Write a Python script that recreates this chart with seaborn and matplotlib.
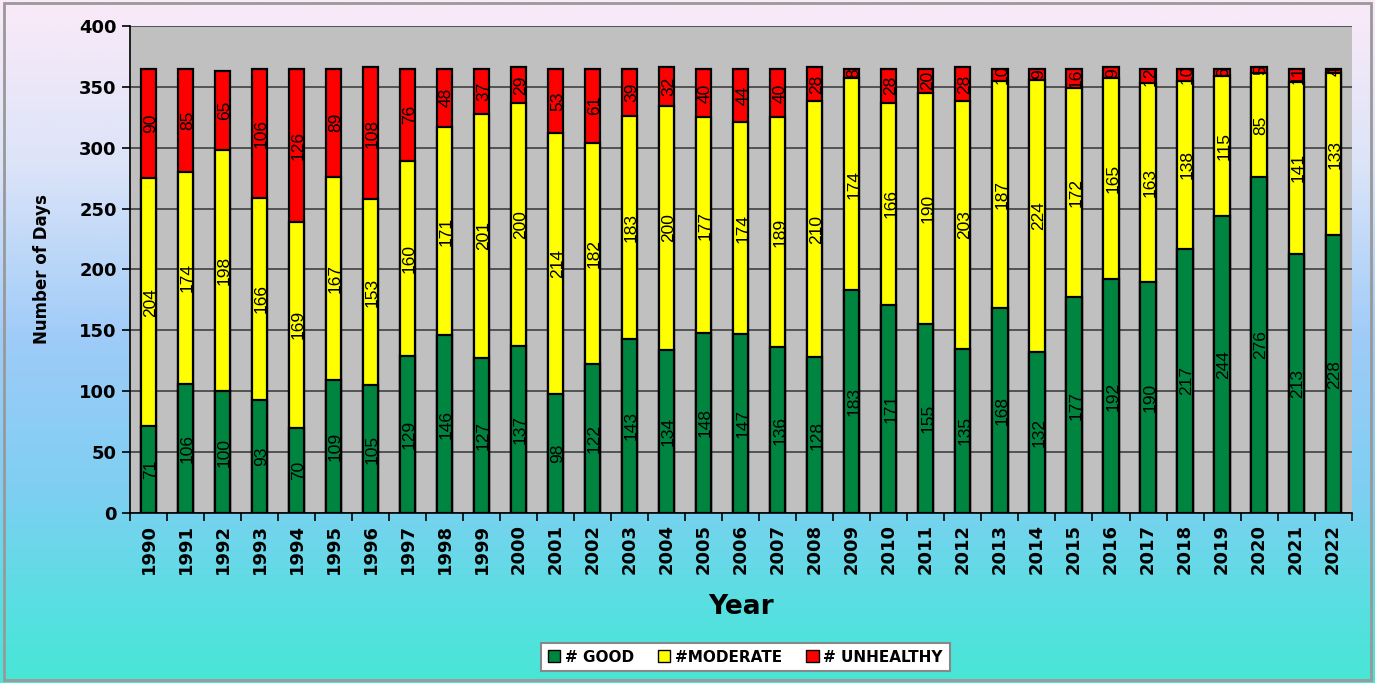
import numpy as np
import pandas as pd
import matplotlib
matplotlib.use("Agg")
import matplotlib.pyplot as plt
import seaborn as sns
from matplotlib.colors import LinearSegmentedColormap
from matplotlib.patches import Patch, Rectangle

years = list(range(1990, 2023))
good = [71, 106, 100, 93, 70, 109, 105, 129, 146, 127, 137, 98, 122, 143, 134, 148, 147,
        136, 128, 183, 171, 155, 135, 168, 132, 177, 192, 190, 217, 244, 276, 213, 228]
moderate = [204, 174, 198, 166, 169, 167, 153, 160, 171, 201, 200, 214, 182, 183, 200, 177, 174,
            189, 210, 174, 166, 190, 203, 187, 224, 172, 165, 163, 138, 115, 85, 141, 133]
unhealthy = [90, 85, 65, 106, 126, 89, 108, 76, 48, 37, 29, 53, 61, 39, 32, 40, 44,
             40, 28, 8, 28, 20, 28, 10, 9, 16, 9, 12, 10, 6, 5, 11, 4]

df = pd.DataFrame({"Year": [str(y) for y in years], "good": good,
                   "moderate": moderate, "unhealthy": unhealthy})
df["gm"] = df["good"] + df["moderate"]
df["total"] = df["gm"] + df["unhealthy"]

c_good = "#008540"
c_mod = "#FFFF00"
c_unh = "#FF0000"

sns.set_style("white")
plt.rcParams["text.color"] = "black"
plt.rcParams["axes.labelcolor"] = "black"
plt.rcParams["xtick.color"] = "black"
plt.rcParams["ytick.color"] = "black"
fig = plt.figure(figsize=(13.75, 6.83), dpi=100)

# background gradient
bg = fig.add_axes([0, 0, 1, 1], zorder=-10)
cmap = LinearSegmentedColormap.from_list("bg", [
    (0.0, "#FBEAF8"), (0.24, "#DCE4F8"), (0.5, "#9ECBF8"),
    (0.72, "#7ECFF2"), (0.9, "#56E0E0"), (1.0, "#48E6D6")])
grad = np.linspace(0, 1, 256).reshape(-1, 1)
bg.imshow(grad, aspect="auto", cmap=cmap, extent=[0, 1, 1, 0])
bg.set_xlim(0, 1)
bg.set_ylim(1, 0)
bg.axis("off")
bg.add_patch(Rectangle((0.003, 0.005), 0.994, 0.99, fill=False, edgecolor="#999999",
                       lw=2, transform=bg.transAxes))

ax = fig.add_axes([0.0945, 0.249, 0.8885, 0.713])
ax.set_facecolor("#C0C0C0")

w = 0.41
sns.barplot(data=df, x="Year", y="total", color=c_unh, width=w, edgecolor="black",
            linewidth=1.6, saturation=1, ax=ax, zorder=3)
sns.barplot(data=df, x="Year", y="gm", color=c_mod, width=w, edgecolor="black",
            linewidth=1.6, saturation=1, ax=ax, zorder=3)
sns.barplot(data=df, x="Year", y="good", color=c_good, width=w, edgecolor="black",
            linewidth=1.6, saturation=1, ax=ax, zorder=3)

for i, row in df.iterrows():
    for lo, val in [(0, row["good"]), (row["good"], row["moderate"]), (row["gm"], row["unhealthy"])]:
        ax.text(i + 0.05, lo + val / 2, str(val), rotation=90, ha="center", va="center",
                fontsize=12.5, family="Liberation Sans", color="black", zorder=5)

ax.set_ylim(0, 400)
ax.set_xlim(-0.5, len(years) - 0.5)
ax.set_yticks(range(0, 401, 50))
ax.yaxis.grid(True, color="#404040", lw=1.2, zorder=0)
ax.set_axisbelow(True)
ax.tick_params(axis="y", labelsize=13, length=6, width=1.2, direction="out", left=True)
ax.tick_params(axis="x", labelsize=13, length=0, labelrotation=90, pad=8)
ax.set_xticks(np.arange(-0.5, len(years), 1), minor=True)
ax.tick_params(axis="x", which="minor", length=6, width=1.2, direction="out", bottom=True)
for lab in ax.get_xticklabels() + ax.get_yticklabels():
    lab.set_fontweight("bold")
    lab.set_family("DejaVu Sans")

for s in ["top", "right"]:
    ax.spines[s].set_visible(False)
for s in ["left", "bottom"]:
    ax.spines[s].set_color("black")
    ax.spines[s].set_linewidth(1.2)

ax.set_ylabel("Number of Days", fontsize=12, fontweight="bold", family="DejaVu Sans", labelpad=20)
ax.set_xlabel("Year", fontsize=19, fontweight="bold", family="DejaVu Sans", labelpad=14)

handles = [Patch(facecolor=c_good, edgecolor="black", label="# GOOD"),
           Patch(facecolor=c_mod, edgecolor="black", label="#MODERATE"),
           Patch(facecolor=c_unh, edgecolor="black", label="# UNHEALTHY")]
leg = fig.legend(handles=handles, loc="center", bbox_to_anchor=(0.542, 0.038), ncol=3,
                 frameon=True, fancybox=False, handlelength=0.8, handleheight=0.8,
                 handletextpad=0.3, columnspacing=1.6, borderpad=0.45, framealpha=1,
                 prop={"family": "DejaVu Sans", "weight": "bold", "size": 11})
leg.get_frame().set_edgecolor("#888888")
leg.get_frame().set_facecolor("white")
leg.get_frame().set_linewidth(1.5)

fig.savefig("out.png", dpi=100)
